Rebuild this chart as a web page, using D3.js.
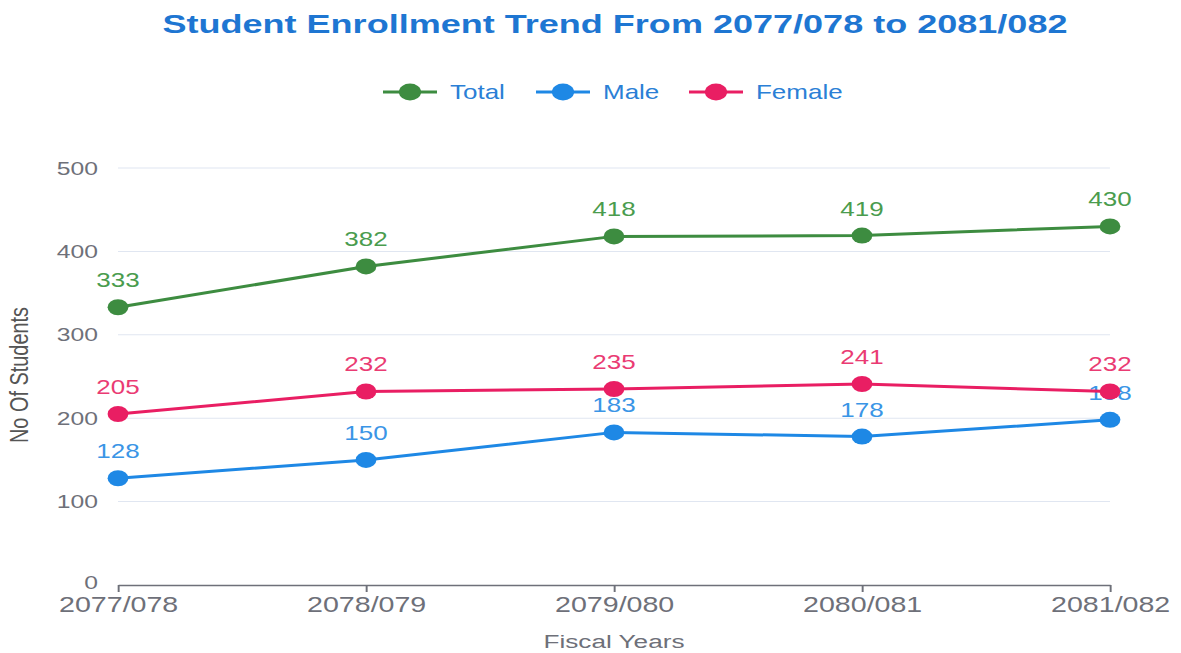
<!DOCTYPE html>
<html>
<head>
<meta charset="utf-8">
<script src="https://cdn.jsdelivr.net/npm/d3@7"></script>
<style>
  html, body { margin: 0; padding: 0; background: #fff; }
  svg { display: block; font-family: "Liberation Sans", Arial, sans-serif; }
</style>
</head>
<body>
<div id="chart"></div>
<script>
const YEARS = ['2077/078', '2078/079', '2079/080', '2080/081', '2081/082'];
const TOTAL = [333, 382, 418, 419, 430];
const MALE = [128, 150, 183, 178, 198];
const FEMALE = [205, 232, 235, 241, 232];
const Y_TICKS = [0, 100, 200, 300, 400, 500];

const SERIES = [
  { name: 'Total', values: TOTAL, color: '#3d8c40', label: '#4a9c4e' },
  { name: 'Male', values: MALE, color: '#1e88e5', label: '#3a95e6' },
  { name: 'Female', values: FEMALE, color: '#e91e63', label: '#ea3b73' },
];

// the original picture is stretched sideways, so draw narrow and let the viewBox widen it
const W = 1181, H = 653, SX = 1.3;
const VW = W / SX;
const px = x => x / SX;

const svg = d3.select('#chart').append('svg')
  .attr('width', W).attr('height', H)
  .attr('viewBox', `0 0 ${VW} ${H}`)
  .attr('preserveAspectRatio', 'none');

const x = d3.scalePoint().domain(YEARS).range([px(118), px(1110)]);
const y = d3.scaleLinear().domain([0, 500]).range([585, 168]);

svg.append('text')
  .attr('x', px(615)).attr('y', 33)
  .attr('text-anchor', 'middle')
  .attr('font-size', 25).attr('font-weight', 'bold')
  .attr('fill', '#1e76d2')
  .attr('textLength', px(905)).attr('lengthAdjust', 'spacingAndGlyphs')
  .text('Student Enrollment Trend From 2077/078 to 2081/082');

// legend
const legendX = [px(383), px(536), px(689)];
const lg = svg.append('g').selectAll('g').data(SERIES).join('g')
  .attr('transform', (d, i) => `translate(${legendX[i]},92)`);
lg.append('line').attr('x1', 0).attr('x2', px(54))
  .attr('stroke', d => d.color).attr('stroke-width', 3);
lg.append('circle').attr('cx', px(27)).attr('r', 8.5).attr('fill', d => d.color);
lg.append('text').attr('x', px(67)).attr('y', 7)
  .attr('font-size', 20).attr('fill', '#2b7fd6')
  .text(d => d.name);

// grid
svg.append('g').selectAll('line').data(Y_TICKS.filter(v => v > 0)).join('line')
  .attr('x1', x.range()[0]).attr('x2', x.range()[1])
  .attr('y1', d => y(d)).attr('y2', d => y(d))
  .attr('stroke', '#e0e6f1').attr('stroke-width', 1);

// y axis labels
const yAxis = svg.append('g')
  .attr('transform', `translate(${px(98)},0)`)
  .call(d3.axisLeft(y).tickValues(Y_TICKS).tickSize(0).tickPadding(0));
yAxis.select('.domain').remove();
yAxis.selectAll('text')
  .attr('font-size', 19).attr('fill', '#6e7079')
  .attr('font-family', '"Liberation Sans", Arial, sans-serif');
yAxis.selectAll('.tick').filter(d => d === 0).select('text').attr('dy', '0.2em');

// x axis
const xAxis = svg.append('g')
  .attr('transform', 'translate(0,585)')
  .call(d3.axisBottom(x).tickSize(7).tickPadding(4).tickSizeOuter(0));
xAxis.select('.domain').attr('stroke', '#6e7079').attr('stroke-width', 1.5);
xAxis.selectAll('.tick line').attr('stroke', '#6e7079').attr('stroke-width', 1.5);
xAxis.selectAll('text')
  .attr('font-size', 22).attr('fill', '#6e7079')
  .attr('font-family', '"Liberation Sans", Arial, sans-serif');

svg.append('text')
  .attr('transform', `translate(${px(28)},375) rotate(-90)`)
  .attr('text-anchor', 'middle')
  .attr('font-size', 20).attr('fill', '#555')
  .attr('textLength', 136).attr('lengthAdjust', 'spacingAndGlyphs')
  .text('No Of Students');

svg.append('text')
  .attr('x', px(614)).attr('y', 648)
  .attr('text-anchor', 'middle')
  .attr('font-size', 19).attr('fill', '#6e7079')
  .attr('textLength', px(141)).attr('lengthAdjust', 'spacingAndGlyphs')
  .text('Fiscal Years');

// series
const line = d3.line().x((d, i) => x(YEARS[i])).y(d => y(d));
SERIES.forEach(s => {
  const g = svg.append('g');
  g.append('path').datum(s.values)
    .attr('d', line).attr('fill', 'none')
    .attr('stroke', s.color).attr('stroke-width', 3);
  g.selectAll('circle').data(s.values).join('circle')
    .attr('cx', (d, i) => x(YEARS[i])).attr('cy', d => y(d))
    .attr('r', 8).attr('fill', s.color);
  g.selectAll('text').data(s.values).join('text')
    .attr('x', (d, i) => x(YEARS[i])).attr('y', d => y(d) - 20)
    .attr('text-anchor', 'middle')
    .attr('font-size', 20).attr('fill', s.label)
    .text(d => d);
});
</script>
</body>
</html>
